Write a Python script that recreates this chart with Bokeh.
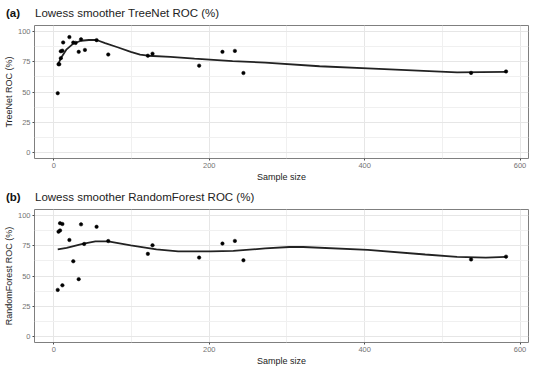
from bokeh.plotting import figure
from bokeh.layouts import column
from bokeh.models import Range1d, FixedTicker, Div
from bokeh.embed import file_html
from bokeh.resources import INLINE

# ---- data: panel (a) TreeNet ----
tn_size = [5, 6, 7, 9, 9, 11, 12, 20, 25, 28, 32, 35, 40, 55, 70, 121, 127, 187, 217, 233, 244, 537, 582]
tn_roc = [49, 73, 73, 78, 83.7, 84.2, 91, 95.4, 90.9, 90.6, 83.2, 93.6, 84.8, 92.9, 81, 80, 81.7, 71.8, 83.2, 84, 65.7, 65.8, 67]
tn_smooth_x = [5, 10, 16, 25, 35, 45, 55, 66, 82, 99, 111, 121, 150, 181, 230, 272, 342, 404, 490, 519, 582]
tn_smooth_y = [72.5, 79, 85, 90, 92.4, 93, 93, 90.5, 87, 83.2, 81, 80, 79, 77.6, 75.5, 74.3, 71.3, 69.5, 67, 66.2, 66.7]

# ---- data: panel (b) RandomForest ----
rf_size = [5, 11, 6, 8, 8, 11, 20, 25, 32, 35, 39, 55, 70, 121, 127, 187, 217, 233, 244, 537, 582]
rf_roc = [38.5, 42.3, 86.7, 87.7, 93.7, 93, 79.8, 62.2, 47.4, 92.7, 76.5, 90.7, 78.9, 68.3, 75.4, 65.2, 76.8, 79, 63, 63.7, 66]
rf_smooth_x = [5, 16.5, 37, 53.5, 70, 99, 132, 160, 202, 231, 272, 303, 321, 404, 478, 519, 556, 582]
rf_smooth_y = [72, 73.3, 76.6, 78.6, 78.6, 75.4, 72, 70.3, 70.3, 70.8, 72.8, 74, 74, 71.6, 67.8, 65.8, 65.2, 65.8]

x_ticks = [0, 200, 400, 600]
x_minor = [100, 300, 500]
y_ticks = [0, 25, 50, 75, 100]
y_minor = [12.5, 37.5, 62.5, 87.5]

FONT = "Liberation Sans"


def make_header(tag, title):
    html = ('<div style="font-family:\'Liberation Sans\',Arial,sans-serif;font-size:11.5px;'
            'color:#222222;white-space:nowrap;line-height:20px;padding-top:3px">'
            '<span style="display:inline-block;width:35px;padding-left:6px;box-sizing:border-box;'
            'font-weight:bold;color:#111111">' + tag + '</span>' + title + '</div>')
    return Div(text=html, width=534, height=20, margin=(0, 0, 0, 0))


def make_panel(ylabel, xs, ys, sx, sy):
    p = figure(width=534, height=164, output_backend="svg", toolbar_location=None,
               x_range=Range1d(-24.9, 610.9), y_range=Range1d(-5, 105),
               min_border_left=0, min_border_right=6, min_border_top=5, min_border_bottom=0)

    p.outline_line_color = "#7f7f7f"
    p.outline_line_width = 1
    p.background_fill_color = "white"
    p.border_fill_color = "white"

    for ax in (p.xaxis[0], p.yaxis[0]):
        ax.axis_line_color = None
        ax.major_tick_line_color = "#4d4d4d"
        ax.major_tick_out = 2
        ax.major_tick_in = 0
        ax.minor_tick_line_color = None
        ax.major_label_text_font = FONT
        ax.major_label_text_font_size = "7.5px"
        ax.major_label_text_color = "#737373"
        ax.major_label_standoff = 2
        ax.axis_label_text_font = FONT
        ax.axis_label_text_font_size = "9px"
        ax.axis_label_text_font_style = "normal"
        ax.axis_label_text_color = "#222222"
        ax.axis_label_standoff = 1

    p.xaxis.ticker = FixedTicker(ticks=x_ticks)
    p.yaxis.ticker = FixedTicker(ticks=y_ticks)
    p.xaxis.axis_label = "Sample size"
    p.yaxis.axis_label = ylabel

    p.xgrid.ticker = FixedTicker(ticks=x_ticks, minor_ticks=x_minor)
    p.ygrid.ticker = FixedTicker(ticks=y_ticks, minor_ticks=y_minor)
    for g in (p.xgrid[0], p.ygrid[0]):
        g.grid_line_color = "#e6e6e6"
        g.grid_line_width = 1
        g.minor_grid_line_color = "#f0f0f0"
        g.minor_grid_line_width = 1

    p.line(sx, sy, line_color="#222222", line_width=1.8)
    p.scatter(xs, ys, size=3.5, fill_color="black", line_color="black", line_width=0.5)
    return p


h1 = make_header("(a)", "Lowess smoother TreeNet ROC (%)")
p1 = make_panel("TreeNet ROC (%)", tn_size, tn_roc, tn_smooth_x, tn_smooth_y)
h2 = make_header("(b)", "Lowess smoother RandomForest ROC (%)")
p2 = make_panel("RandomForest ROC (%)", rf_size, rf_roc, rf_smooth_x, rf_smooth_y)

layout = column(h1, p1, h2, p2, spacing=0)
open("out.html", "w").write(file_html(layout, INLINE))
